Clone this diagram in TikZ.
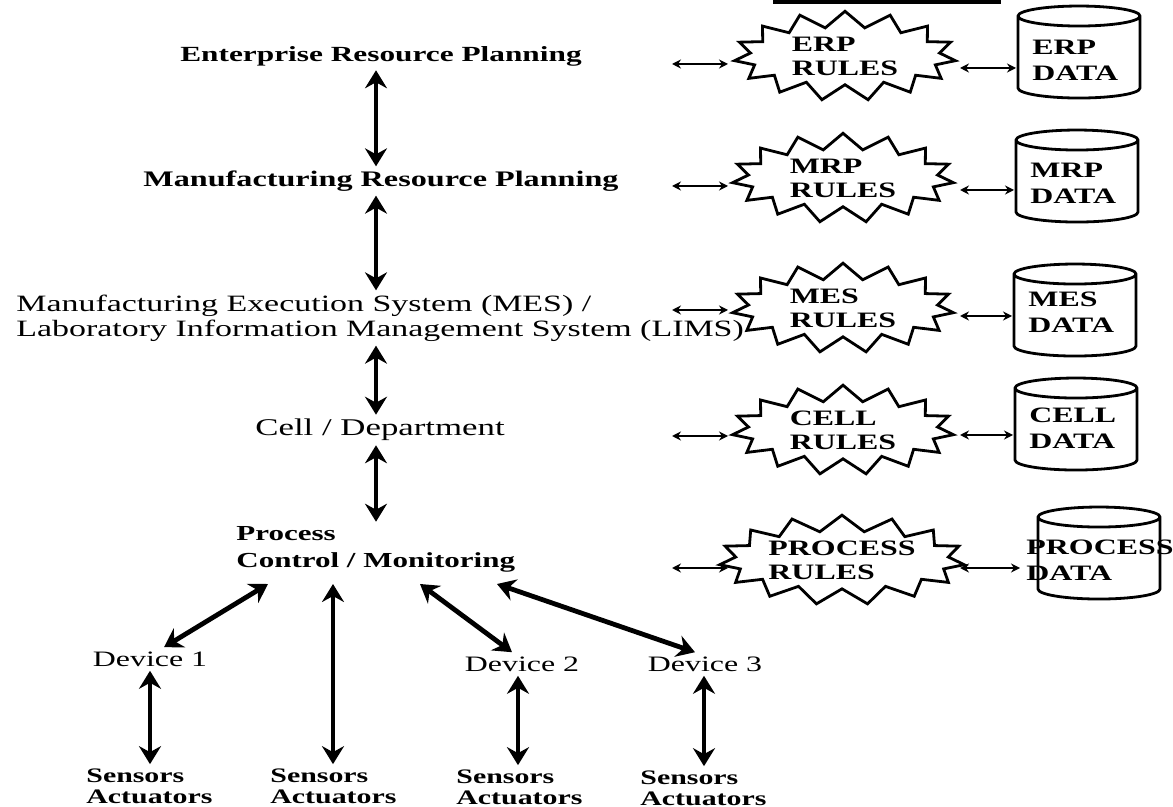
\documentclass[tikz,border=0pt]{standalone}
\usepackage{fontspec}
\setmainfont{Liberation Serif}
\newfontfamily\widefont{Liberation Serif}[FakeStretch=1.45]
\usetikzlibrary{shapes.symbols,shapes.geometric,arrows.meta,calc}

\tikzset{
 level/.style={font=\widefont\bfseries\fontsize{11}{13}\selectfont,inner sep=2pt},
 levelr/.style={font=\widefont\fontsize{11.7}{12.5}\selectfont,inner sep=2pt},
 dev/.style={font=\widefont\fontsize{11}{13}\selectfont,inner sep=2pt},
 sens/.style={font=\widefont\bfseries\fontsize{10.3}{10.5}\selectfont,align=left,anchor=west,inner sep=2pt},
 rules/.style={starburst,draw,line width=1.4pt,starburst points=15,
   starburst point height=8pt,random starburst=0,inner xsep=7pt,inner ysep=0.5pt,
   align=left,font=\widefont\bfseries\fontsize{11}{12}\selectfont},
 db/.style={cylinder,draw,line width=1.4pt,shape border rotate=90,aspect=1.5,
   minimum width=61pt,minimum height=46pt},
 dbtext/.style={font=\widefont\bfseries\fontsize{11}{13}\selectfont,align=left,anchor=west,inner sep=0pt},
 varrow/.style={line width=2.4pt,>={Stealth[length=9pt,width=11pt,inset=3pt]},<->},
 harrow/.style={line width=1.1pt,>={Stealth[length=4.5pt,width=4.5pt]},<->}
}

\begin{document}
\begin{tikzpicture}[x=0.5pt,y=-0.5pt]
 \useasboundingbox (0,0) rectangle (1173,807);
 \draw[line width=2pt] (773,2) -- (1001,2);
 % levels
 \node[level,font=\widefont\bfseries\fontsize{10.8}{13}\selectfont] (erp) at (381,56) {Enterprise Resource Planning};
 \node[level,font=\widefont\bfseries\fontsize{11.1}{13}\selectfont] (mrp) at (381,181) {Manufacturing Resource Planning};
 \node[levelr,align=left,anchor=west] (mes) at (12,318)
  {Manufacturing Execution System (MES) /\\Laboratory Information Management System (LIMS)};
 \node[levelr,font=\widefont\fontsize{12}{13}\selectfont] (cell) at (380,430) {Cell / Department};
 \node[level,font=\widefont\bfseries\fontsize{10.7}{13.5}\selectfont,align=left,anchor=west]
  (proc) at (232,549) {Process\\Control / Monitoring};
 \draw[varrow] (376,0 |- erp.south) -- (376,0 |- mrp.north);
 \draw[varrow] (376,0 |- mrp.south) -- (376,0 |- mes.north);
 \draw[varrow] (376,0 |- mes.south) -- (376,0 |- cell.north);
 \draw[varrow] (376,0 |- cell.south) -- (376,0 |- proc.north);
 % devices
 \node[dev] (dev1) at (150,659) {Device 1};
 \node[dev] (dev2) at (522,664) {Device 2};
 \node[dev] (dev3) at (705,664) {Device 3};
 \node[sens] (sa1) at (82,786) {Sensors\\Actuators};
 \node[sens] (sa2) at (266,786) {Sensors\\Actuators};
 \node[sens] (sa3) at (452,787) {Sensors\\Actuators};
 \node[sens] (sa4) at (636,788) {Sensors\\Actuators};
 \coordinate (pd1) at (268,584);
 \coordinate (ps2) at (333,584);
 \coordinate (pd2) at (420,584);
 \coordinate (pd3) at (497,584);
 \draw[varrow] (pd1) -- ([xshift=7pt]dev1.north);
 \draw[varrow] (ps2) -- (ps2 |- sa2.north);
 \draw[varrow] (pd2) -- ([xshift=-5pt]dev2.north);
 \draw[varrow] (pd3) -- ([xshift=-5pt]dev3.north);
 \draw[varrow] (dev1) -- (dev1 |- sa1.north);
 \draw[varrow] ([xshift=-2pt]dev2.south) -- ([xshift=-2pt]dev2.south |- sa3.north);
 \draw[varrow] ([xshift=-0.5pt]dev3.south) -- ([xshift=-0.5pt]dev3.south |- sa4.north);
 % rules and data
 \node[rules] (erpr) at (845,56) {ERP\\RULES};
 \node[rules] (mrpr) at (843,178) {MRP\\RULES};
 \node[rules] (mesr) at (843,308) {MES\\RULES};
 \node[rules] (cellr) at (843,430) {CELL\\RULES};
 \node[rules,inner xsep=1pt] (procr) at (842,560) {PROCESS\\RULES};
 \node[db] (erpd) at (1079,60) {};
 \node[db] (mrpd) at (1077,184) {};
 \node[db] (mesd) at (1075,318) {};
 \node[db] (celld) at (1076,432) {};
 \node[db] (procd) at (1099,561) {};
 \node[dbtext] at (1032,60) {ERP\\DATA};
 \node[dbtext] at (1030,183) {MRP\\DATA};
 \node[dbtext] at (1028,312) {MES\\DATA};
 \node[dbtext] at (1029,428) {CELL\\DATA};
 \node[dbtext] at (1026,560) {PROCESS\\DATA};
 \foreach \r/\y/\z/\e in {erp/64/68/1016,mrp/186/190/1014,mes/310/316/1012,cell/436/435/1013,proc/568/568/1020}{
  \coordinate (\r in) at (672,\y);
  \draw[harrow] (\r in) -- (728,\y);
  \draw[harrow] (960,\z) -- (\e,\z);
 }
\end{tikzpicture}
\end{document}
